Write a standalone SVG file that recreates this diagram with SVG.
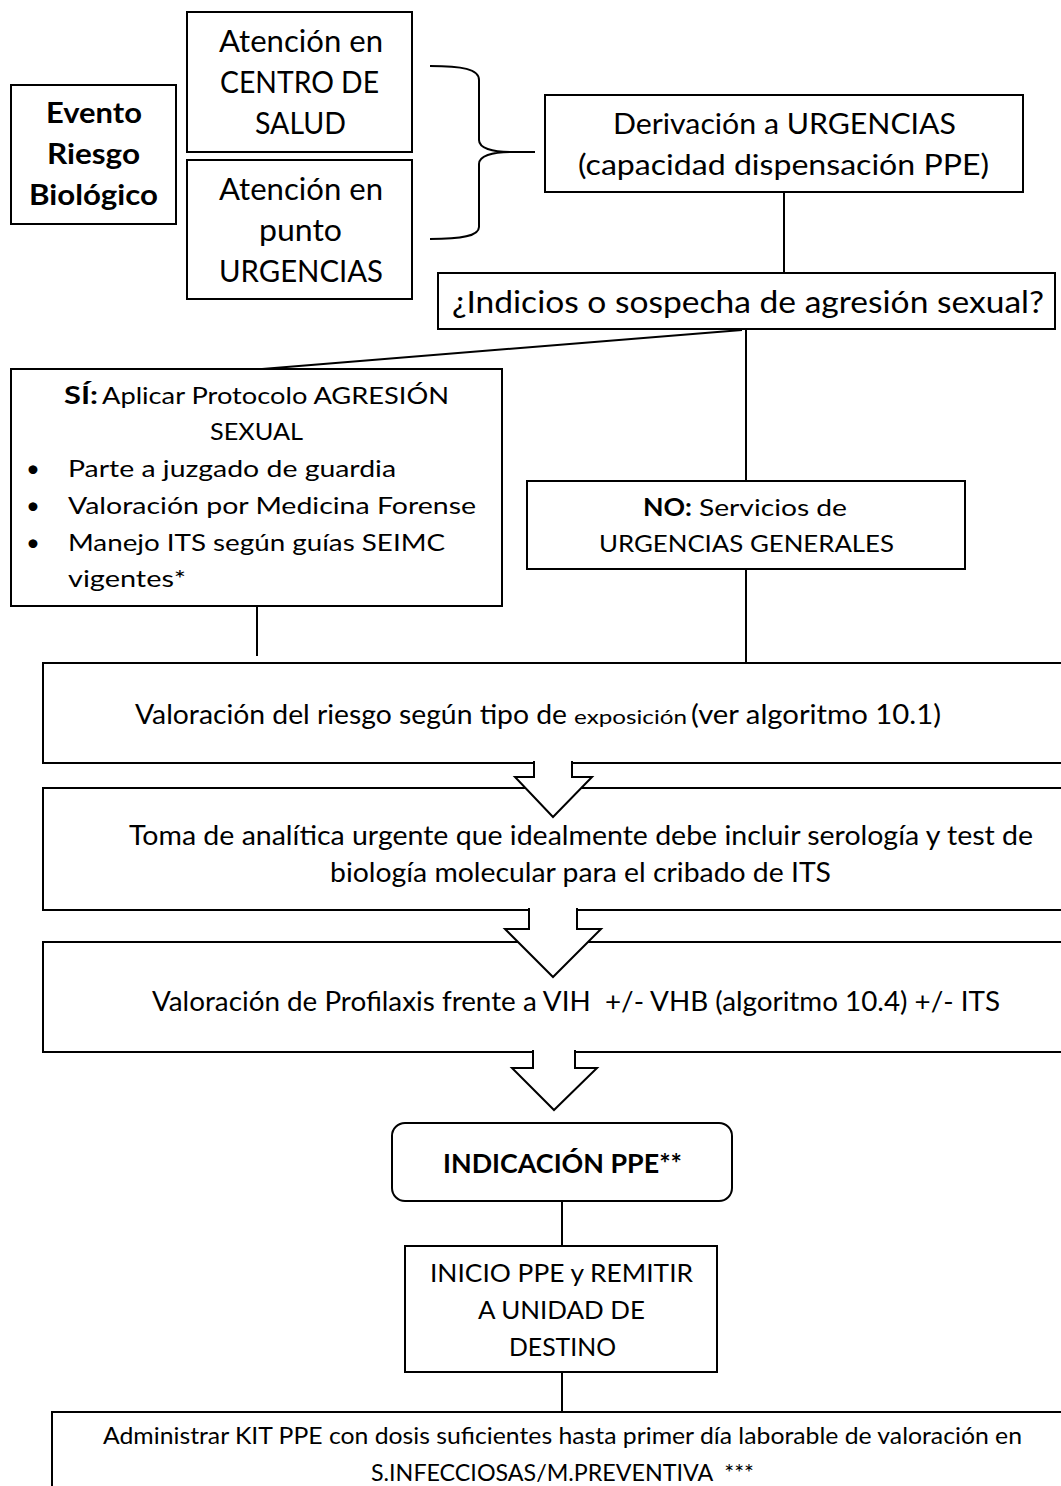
<svg xmlns="http://www.w3.org/2000/svg" width="1061" height="1486" viewBox="0 0 1061 1486">
<style>
.box{fill:#fff;stroke:#000;stroke-width:2}
.t{font-family:Lato,"Open Sans","Liberation Sans",sans-serif;fill:#000}
.b{font-weight:bold}
.ln{fill:none;stroke:#000;stroke-width:2}
.arr{fill:#fff;stroke:#000;stroke-width:2;stroke-linejoin:miter}
</style>
<rect width="1061" height="1486" fill="#fff"/>

<g id="evento">
<rect class="box" x="11" y="85" width="165" height="139"/>
<text class="t b" font-size="28" x="46" y="123" textLength="96" lengthAdjust="spacingAndGlyphs">Evento</text>
<text class="t b" font-size="28" x="47" y="164" textLength="93" lengthAdjust="spacingAndGlyphs">Riesgo</text>
<text class="t b" font-size="28" x="29" y="205" textLength="129" lengthAdjust="spacingAndGlyphs">Biológico</text>
</g>

<g id="centro-salud">
<rect class="box" x="187" y="12" width="225" height="140"/>
<text class="t" font-size="30" x="219" y="52" textLength="164" lengthAdjust="spacingAndGlyphs">Atención en</text>
<text class="t" font-size="30" x="220" y="93" textLength="159" lengthAdjust="spacingAndGlyphs">CENTRO DE</text>
<text class="t" font-size="30" x="255" y="134" textLength="91" lengthAdjust="spacingAndGlyphs">SALUD</text>
</g>

<g id="punto-urgencias">
<rect class="box" x="187" y="160" width="225" height="139"/>
<text class="t" font-size="30" x="219" y="200" textLength="164" lengthAdjust="spacingAndGlyphs">Atención en</text>
<text class="t" font-size="30" x="259" y="241" textLength="83" lengthAdjust="spacingAndGlyphs">punto</text>
<text class="t" font-size="30" x="219" y="282" textLength="164" lengthAdjust="spacingAndGlyphs">URGENCIAS</text>
</g>

<g id="derivacion">
<rect class="box" x="545" y="95" width="478" height="97"/>
<text class="t" font-size="29" x="613" y="134" textLength="343" lengthAdjust="spacingAndGlyphs">Derivación a URGENCIAS</text>
<text class="t" font-size="29" x="578" y="175" textLength="411" lengthAdjust="spacingAndGlyphs">(capacidad dispensación PPE)</text>
</g>

<g id="indicios">
<rect class="box" x="438" y="273" width="617" height="56"/>
<text class="t" font-size="30" x="452" y="313" textLength="592" lengthAdjust="spacingAndGlyphs">¿Indicios o sospecha de agresión sexual?</text>
</g>

<g id="si-agresion">
<rect class="box" x="11" y="369" width="491" height="237"/>
<text class="t b" font-size="24" x="64" y="404" textLength="34" lengthAdjust="spacingAndGlyphs">SÍ:</text>
<text class="t" font-size="24" x="102" y="404" textLength="347" lengthAdjust="spacingAndGlyphs">Aplicar Protocolo AGRESIÓN</text>
<text class="t" font-size="24" x="210" y="440" textLength="93" lengthAdjust="spacingAndGlyphs">SEXUAL</text>
<text class="t" font-size="24" x="26" y="477">•</text>
<text class="t" font-size="24" x="68" y="477" textLength="328" lengthAdjust="spacingAndGlyphs">Parte a juzgado de guardia</text>
<text class="t" font-size="24" x="26" y="514">•</text>
<text class="t" font-size="24" x="68" y="514" textLength="408" lengthAdjust="spacingAndGlyphs">Valoración por Medicina Forense</text>
<text class="t" font-size="24" x="26" y="551">•</text>
<text class="t" font-size="24" x="68" y="551" textLength="377" lengthAdjust="spacingAndGlyphs">Manejo ITS según guías SEIMC</text>
<text class="t" font-size="24" x="68" y="587" textLength="118" lengthAdjust="spacingAndGlyphs">vigentes*</text>
</g>

<g id="no-generales">
<rect class="box" x="527" y="481" width="438" height="88"/>
<text class="t b" font-size="24" x="643" y="516" textLength="49" lengthAdjust="spacingAndGlyphs">NO:</text>
<text class="t" font-size="24" x="699" y="516" textLength="148" lengthAdjust="spacingAndGlyphs">Servicios de</text>
<text class="t" font-size="24" x="599" y="552" textLength="295" lengthAdjust="spacingAndGlyphs">URGENCIAS GENERALES</text>
</g>

<g id="valoracion-riesgo">
<rect class="box" x="43" y="663" width="1030" height="100"/>
<text class="t" font-size="26" x="135" y="724" textLength="432" lengthAdjust="spacingAndGlyphs">Valoración del riesgo según tipo de</text>
<text class="t" font-size="19" x="574" y="724" textLength="113" lengthAdjust="spacingAndGlyphs">exposición</text>
<text class="t" font-size="26" x="691" y="724" textLength="250" lengthAdjust="spacingAndGlyphs">(ver algoritmo 10.1)</text>
</g>

<g id="toma-analitica">
<rect class="box" x="43" y="788" width="1030" height="122"/>
<text class="t" font-size="26" x="129" y="845" textLength="904" lengthAdjust="spacingAndGlyphs">Toma de analítica urgente que idealmente debe incluir serología y test de</text>
<text class="t" font-size="26" x="330" y="882" textLength="501" lengthAdjust="spacingAndGlyphs">biología molecular para el cribado de ITS</text>
</g>

<g id="profilaxis">
<rect class="box" x="43" y="942" width="1030" height="110"/>
<text class="t" font-size="26" x="152" y="1011" textLength="848" lengthAdjust="spacingAndGlyphs" xml:space="preserve">Valoración de Profilaxis frente a VIH  +/- VHB (algoritmo 10.4) +/- ITS</text>
</g>

<g id="indicacion-ppe">
<rect class="box" x="392" y="1123" width="340" height="78" rx="13" ry="13"/>
<text class="t b" font-size="27" x="443" y="1173" textLength="239" lengthAdjust="spacingAndGlyphs">INDICACIÓN PPE**</text>
</g>

<g id="inicio-ppe">
<rect class="box" x="405" y="1246" width="312" height="126"/>
<text class="t" font-size="25" x="430" y="1282" textLength="263" lengthAdjust="spacingAndGlyphs">INICIO PPE y REMITIR</text>
<text class="t" font-size="25" x="478" y="1319" textLength="167" lengthAdjust="spacingAndGlyphs">A UNIDAD DE</text>
<text class="t" font-size="25" x="509" y="1356" textLength="107" lengthAdjust="spacingAndGlyphs">DESTINO</text>
</g>

<g id="administrar-kit">
<rect class="box" x="52" y="1412" width="1020" height="100"/>
<text class="t" font-size="23" x="103" y="1444" textLength="919" lengthAdjust="spacingAndGlyphs">Administrar KIT PPE con dosis suficientes hasta primer día laborable de valoración en</text>
<text class="t" font-size="23" x="371" y="1481" textLength="383" lengthAdjust="spacingAndGlyphs" xml:space="preserve">S.INFECCIOSAS/M.PREVENTIVA  ***</text>
</g>

<g id="connectors">
<path class="ln" d="M430,66 C462,66 479,69 479,80 L479,140 C479,148 492,152 510,152 L535,152 M510,152 C492,152 479,156 479,164 L479,227 C479,236 462,239 430,239"/>
<line class="ln" x1="784" y1="192" x2="784" y2="273"/>
<line class="ln" x1="742" y1="330" x2="262" y2="369"/>
<line class="ln" x1="746" y1="329" x2="746" y2="481"/>
<line class="ln" x1="257" y1="606" x2="257" y2="656"/>
<line class="ln" x1="746" y1="569" x2="746" y2="663"/>
<path class="arr" d="M534,761 L534,777 L515,777 L553,817 L592,777 L572,777 L572,761"/>
<path class="arr" d="M529,908 L529,929 L505,929 L553,977 L601,929 L577,929 L577,908"/>
<path class="arr" d="M533,1050 L533,1068 L512,1068 L554,1110 L597,1068 L575,1068 L575,1050"/>
<line class="ln" x1="562" y1="1201" x2="562" y2="1246"/>
<line class="ln" x1="562" y1="1372" x2="562" y2="1412"/>
</g>
</svg>
